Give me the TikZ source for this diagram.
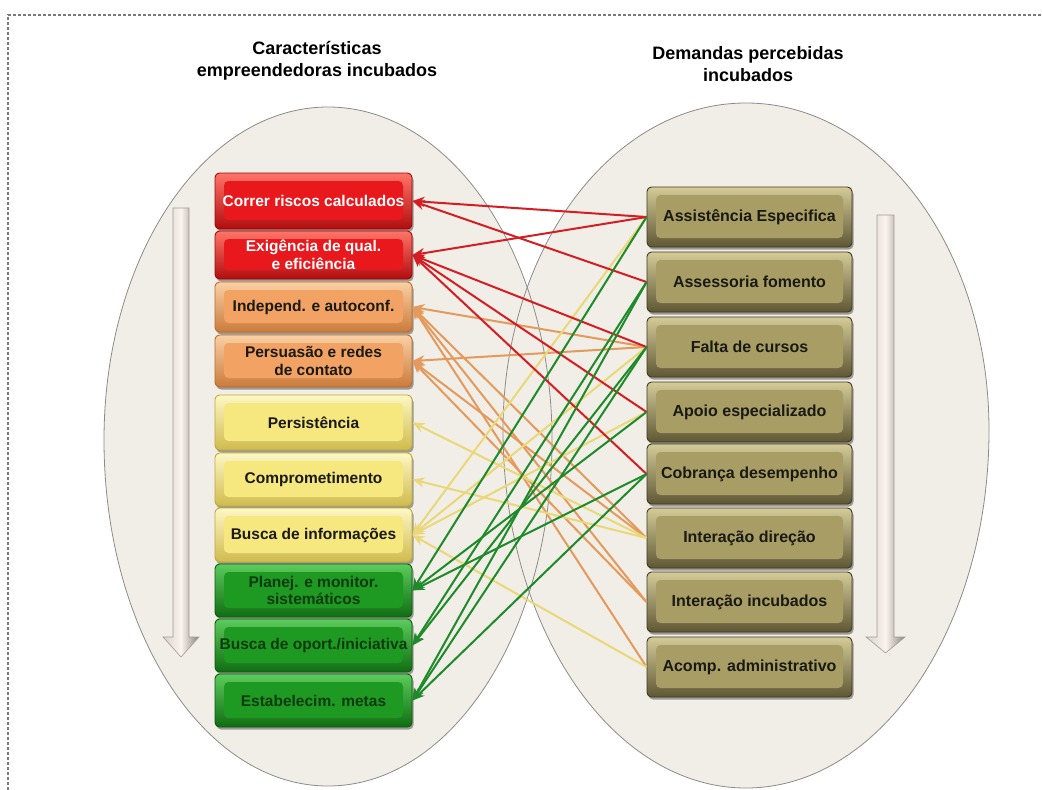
\documentclass[tikz,border=0pt]{standalone}
\usepackage{fontspec}
\setmainfont{Liberation Sans}
\usetikzlibrary{arrows.meta,shadows,calc}
\definecolor{cR}{HTML}{E8181C}
\definecolor{cRL}{HTML}{FF7468}
\definecolor{cRD}{HTML}{9A0808}
\definecolor{cO}{HTML}{F2A262}
\definecolor{cOL}{HTML}{FAD0A4}
\definecolor{cOD}{HTML}{B96A2A}
\definecolor{cY}{HTML}{F6E77E}
\definecolor{cYL}{HTML}{FDF7C4}
\definecolor{cYD}{HTML}{BFA838}
\definecolor{cG}{HTML}{1E9A22}
\definecolor{cGL}{HTML}{5CCB5C}
\definecolor{cGD}{HTML}{0A5A0C}
\definecolor{cK}{HTML}{A89D64}
\definecolor{cKL}{HTML}{D4CB98}
\definecolor{cKD}{HTML}{3E3920}
\definecolor{lnR}{HTML}{D41E24}
\definecolor{lnO}{HTML}{E39A5C}
\definecolor{lnY}{HTML}{EAD878}
\definecolor{lnG}{HTML}{1E8A2A}
\definecolor{eggO}{HTML}{F1EEE7}
\definecolor{eggE}{HTML}{8E8C88}
\definecolor{arL}{HTML}{D9D1C9}
\definecolor{arM}{HTML}{FBF4EE}
\definecolor{arD}{HTML}{8A827A}
\definecolor{txG}{HTML}{0E3A10}
\definecolor{txK}{HTML}{1A1A14}
\definecolor{frameC}{HTML}{7A7A7A}
\tikzset{
  bevel/.style 2 args={draw=#1D, line width=0.9pt, rounded corners=4.5pt,
     top color=#1L, bottom color=#1D!70!#1, text=#2, align=center, inner sep=0pt,
     drop shadow={shadow xshift=1.5pt, shadow yshift=-2.5pt, opacity=0.35, fill=black},
     path picture={\fill[#1] ($(path picture bounding box.north west)+(9pt,-8pt)$)
        rectangle ($(path picture bounding box.south east)+(-9pt,9pt)$);}},
  lbox/.style 2 args={bevel={#1}{#2}, minimum width=197pt,
     font=\bfseries\fontsize{15.5}{17.5}\selectfont},
  rbox/.style={bevel={cK}{txK}, minimum width=205pt, minimum height=60pt,
     font=\bfseries\fontsize{16}{18}\selectfont},
  title/.style={align=center, font=\bfseries\fontsize{18}{22}\selectfont, text=black},
  link/.style={line width=2pt, -{Stealth[length=12pt,width=10pt]}},
  lR/.style={link, draw=lnR, fill=lnR},
  lO/.style={link, draw=lnO, fill=lnO},
  lY/.style={link, draw=lnY, fill=lnY},
  lG/.style={link, draw=lnG, fill=lnG},
  egg/.style={fill=eggO},
  eggline/.style={draw=eggE, line width=0.8pt},
  bigarrow/.style={left color=arL, right color=arD, middle color=arM, draw=arD!80, line width=0.6pt},
  frame/.style={draw=frameC, line width=1.1pt, dash pattern=on 3pt off 2pt}
}
\begin{document}
\begin{tikzpicture}[x=1pt, y=-1pt]
\useasboundingbox (0,0) rectangle (1042,790);
\fill[white] (0,0) rectangle (1042,790);
% frame
\draw[frame] (8,790) -- (8,15) -- (1042,15);
% eggs
\fill[egg] (552,440) .. controls (552,256) and (452,107) .. (328,107)
  .. controls (204,107) and (104,256) .. (104,440)
  .. controls (104,631) and (204,786) .. (328,786)
  .. controls (452,786) and (552,631) .. (552,440) -- cycle;
\fill[egg] (989,430) .. controls (989,249) and (880,103) .. (746,103)
  .. controls (612,103) and (503,249) .. (503,430)
  .. controls (503,628) and (612,788) .. (746,788)
  .. controls (880,788) and (989,628) .. (989,430) -- cycle;
\draw[eggline] (552,440) .. controls (552,256) and (452,107) .. (328,107)
  .. controls (204,107) and (104,256) .. (104,440)
  .. controls (104,631) and (204,786) .. (328,786)
  .. controls (452,786) and (552,631) .. (552,440) -- cycle;
\draw[eggline] (989,430) .. controls (989,249) and (880,103) .. (746,103)
  .. controls (612,103) and (503,249) .. (503,430)
  .. controls (503,628) and (612,788) .. (746,788)
  .. controls (880,788) and (989,628) .. (989,430) -- cycle;
% big arrows
\shade[bigarrow] (173,208) -- (189,208) -- (189,637) -- (199,637) -- (181,657)
  -- (163,637) -- (173,637) -- cycle;
\shade[bigarrow] (877,215) -- (894,215) -- (894,637) -- (905,637) -- (885.5,653)
  -- (866,637) -- (877,637) -- cycle;
% titles
\node[title] (t1) at (317,61) {Características\\empreendedoras incubados};
\node[title] (t2) at (748,64) {Demandas percebidas\\incubados};
% left boxes
\node[lbox={cR}{white}, minimum height=56pt] (crc) at (313.5,201) {Correr riscos calculados};
\node[lbox={cR}{white}, minimum height=48pt] (exq) at (313.5,255) {Exigência de qual.\\e eficiência};
\node[lbox={cO}{txK}, minimum height=50pt] (ind) at (313.5,307) {Independ. e autoconf.};
\node[lbox={cO}{txK}, minimum height=52pt] (per) at (313.5,361) {Persuasão e redes\\de contato};
\node[lbox={cY}{txK}, minimum height=55pt] (pst) at (313.5,422.5) {Persistência};
\node[lbox={cY}{txK}, minimum height=53pt] (cmp) at (313.5,479.5) {Comprometimento};
\node[lbox={cY}{txK}, minimum height=54pt] (bin) at (313.5,535) {Busca de informações};
\node[lbox={cG}{txG}, minimum height=53pt] (pla) at (313.5,590.5) {Planej. e monitor.\\sistemáticos};
\node[lbox={cG}{txG}, minimum height=53pt] (bop) at (313.5,645.5) {Busca de oport./iniciativa};
\node[lbox={cG}{txG}, minimum height=53pt] (est) at (313.5,700.5) {Estabelecim. metas};
% right boxes
\node[rbox] (ass) at (749.5,217) {Assistência Especifica};
\node[rbox] (asf) at (749.5,282) {Assessoria fomento};
\node[rbox] (fdc) at (749.5,347) {Falta de cursos};
\node[rbox] (aes) at (749.5,412) {Apoio especializado};
\node[rbox] (cbd) at (749.5,474) {Cobrança desempenho};
\node[rbox] (idr) at (749.5,538) {Interação direção};
\node[rbox] (iin) at (749.5,602) {Interação incubados};
\node[rbox] (acp) at (749.5,667) {Acomp. administrativo};
% orange links
\draw[lO] (fdc.west) -- (ind.east);
\draw[lO] (idr.west) -- (ind.east);
\draw[lO] (iin.west) -- (ind.east);
\draw[lO] (acp.west) -- (ind.east);
\draw[lO] (fdc.west) -- (per.east);
\draw[lO] (idr.west) -- (per.east);
\draw[lO] (iin.west) -- (per.east);
% yellow links
\draw[lY] (idr.west) -- (pst.east);
\draw[lY] (idr.west) -- (cmp.east);
\draw[lY] (ass.west) -- (bin.east);
\draw[lY] (fdc.west) -- (bin.east);
\draw[lY] (aes.west) -- (bin.east);
\draw[lY] (acp.west) -- (bin.east);
% red links
\draw[lR] (ass.west) -- (crc.east);
\draw[lR] (asf.west) -- (crc.east);
\draw[lR] (ass.west) -- (exq.east);
\draw[lR] (fdc.west) -- (exq.east);
\draw[lR] (aes.west) -- (exq.east);
\draw[lR] (cbd.west) -- (exq.east);
% green links
\draw[lG] (ass.west) -- (pla.east);
\draw[lG] (aes.west) -- (pla.east);
\draw[lG] (cbd.west) -- (pla.east);
\draw[lG] (asf.west) -- (bop.east);
\draw[lG] (fdc.west) -- (bop.east);
\draw[lG] (asf.west) -- (est.east);
\draw[lG] (fdc.west) -- (est.east);
\draw[lG] (cbd.west) -- (est.east);
\end{tikzpicture}
\end{document}
